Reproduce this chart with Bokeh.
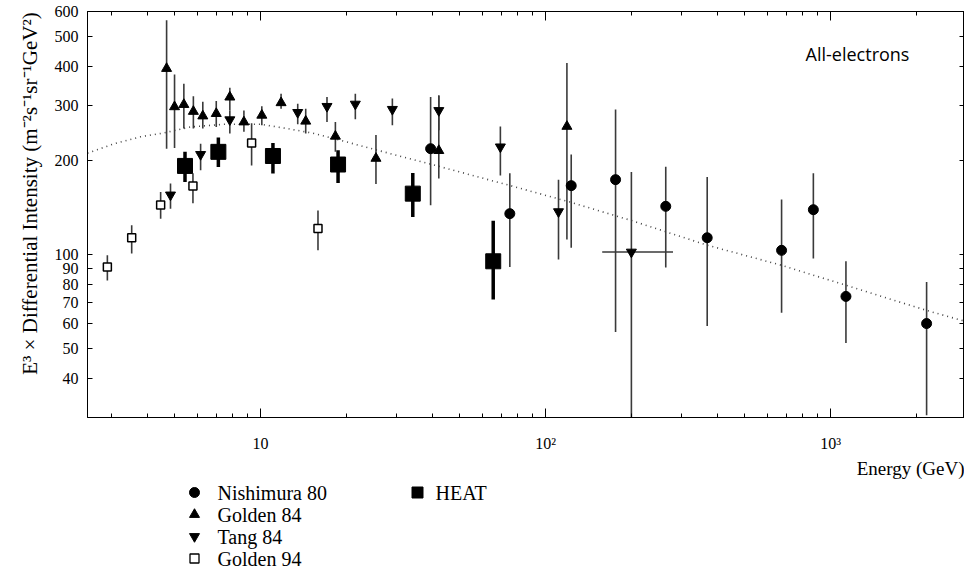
from bokeh.plotting import figure
from bokeh.layouts import column
from bokeh.models import (Range1d, LogAxis, FixedTicker, Label)
from bokeh.core.properties import value
from bokeh.embed import file_html
from bokeh.resources import INLINE

# ---------------- data ----------------
nishimura_E = [39.5, 74.9, 123, 176, 264, 369, 673, 870, 1132, 2172]
nishimura_I = [218, 135, 166, 173.5, 142.5, 113, 103, 139, 73.3, 60]
nishimura_lo = [143.6, 91, 105, 56.4, 90.7, 58.9, 65, 96.9, 52, 30.5]
nishimura_hi = [319, 182, 209, 291, 191, 177, 150, 182, 95, 81.5]

golden84_E = [4.68, 4.99, 5.38, 5.81, 6.27, 6.99, 7.80, 8.74, 10.1, 11.8, 14.4, 18.3, 25.4, 42.2, 118.8]
golden84_I = [394, 297, 302, 287, 277.5, 282.5, 319, 265.5, 279, 306, 267, 239, 203, 215, 257]
golden84_lo = [218, 219, 253, 253, 253, 256, 289, 247, 259, 293, 244, 213, 168, 175, 111.5]
golden84_hi = [562, 377, 352, 321, 308, 310, 342, 289, 298, 327, 293, 265.5, 241, 323, 410]

tang84_E = [4.83, 6.16, 7.80, 13.5, 17.1, 21.5, 29.0, 42.2, 69.4, 111, 200]
tang84_I = [155, 209, 270, 285, 298, 303, 291.5, 289, 221, 137, 101.7]
tang84_lo = [140, 186, 244, 261, 265.5, 271, 259, 250, 179, 96.2, 30]
tang84_hi = [168.5, 226, 289, 304, 319, 327, 315.5, 323, 257, 173.5, 183.6]
# energy bin of the last Tang 84 point
tang84_bin_lo = [158]
tang84_bin_hi = [280]
tang84_bin_I = [101.7]

golden94_E = [2.90, 3.53, 4.46, 5.79, 9.3, 15.9]
golden94_I = [91, 113, 144, 165.6, 227.5, 121]
golden94_lo = [82.5, 100.7, 130, 145.7, 192.6, 103]
golden94_hi = [99.3, 124, 158.4, 181.8, 263, 138.3]

heat_E = [5.43, 7.11, 11.05, 18.7, 34.2, 65.5]
heat_I = [192, 213, 206.6, 194, 156.5, 95]
heat_lo = [170.5, 190.5, 181.4, 169.2, 131.7, 71.6]
heat_hi = [213, 236.7, 227.5, 215.4, 182.2, 128]

model_E = [2.47, 3.06, 3.79, 4.58, 5.68, 7.43, 10, 12.4, 15.4, 20.1, 25, 41.7,
           75.3, 122, 199, 369, 673, 1132, 2173, 3020]
model_I = [211, 226, 238, 245, 256, 261, 261, 253, 244, 229, 217, 192,
           166, 147, 128.5, 107, 92.2, 79.6, 66.1, 60.7]

x_major = [10, 100, 1000]
x_major_labels = ["10", "10²", "10³"]
x_minor = [3, 4, 5, 6, 7, 8, 9, 20, 30, 40, 50, 60, 70, 80, 90,
           200, 300, 400, 500, 600, 700, 800, 900, 2000, 3000]
y_ticks = [40, 50, 60, 70, 80, 90, 100, 200, 300, 400, 500, 600]
y_tick_labels = ["40", "50", "60", "70", "80", "90", "100", "200", "300", "400", "500", "600"]

legend_col1 = ["Nishimura 80", "Golden 84", "Tang 84", "Golden 94"]
legend_col2 = ["HEAT"]

SERIF = "Liberation Serif"
SERIF_Q = "'Liberation Serif', 'Times New Roman', serif"

# ---------------- main figure ----------------
p = figure(x_axis_type="log", y_axis_type="log",
           x_range=Range1d(2.47, 2950), y_range=Range1d(30, 600),
           frame_width=877, frame_height=406,
           min_border_left=87, min_border_right=0, min_border_top=11,
           min_border_bottom=40,
           output_backend="svg", toolbar_location=None)
p.xgrid.visible = False
p.ygrid.visible = False
p.outline_line_color = "black"
p.outline_line_width = 1
p.background_fill_color = "white"
p.border_fill_color = "white"

xa = p.xaxis[0]
xa.ticker = FixedTicker(ticks=x_major, minor_ticks=x_minor)
xa.major_label_overrides = dict(zip(x_major, x_major_labels))
ya = p.yaxis[0]
ya.ticker = FixedTicker(ticks=y_ticks, minor_ticks=[])
ya.major_label_overrides = dict(zip(y_ticks, y_tick_labels))

top = LogAxis(ticker=FixedTicker(ticks=x_major, minor_ticks=x_minor))
top.major_label_overrides = {t: "" for t in x_major}
right = LogAxis(ticker=FixedTicker(ticks=y_ticks, minor_ticks=[]))
right.major_label_overrides = {t: "" for t in y_ticks}
p.add_layout(top, "above")
p.add_layout(right, "right")

for ax in (xa, top):
    ax.major_tick_in = 9
    ax.major_tick_out = 0
    ax.minor_tick_in = 4
    ax.minor_tick_out = 0
for ax in (ya, right):
    ax.major_tick_in = 5
    ax.major_tick_out = 0
    ax.minor_tick_in = 0
    ax.minor_tick_out = 0
for ax in (xa, ya, top, right):
    ax.axis_line_color = "black"
    ax.major_tick_line_color = "black"
    ax.minor_tick_line_color = "black"
    ax.major_label_text_font = SERIF
    ax.major_label_text_color = "black"
for ax in (top, right):
    ax.major_label_text_font_size = "0px"
    ax.major_label_standoff = 0

xa.major_label_text_font_size = "16px"
xa.major_label_standoff = 17
ya.major_label_text_font_size = "16px"
ya.major_label_standoff = 9

# two leading em spaces lift the (centred) title a little, as in the original
ya.axis_label = "\u2003\u2003E³ × Differential Intensity (m⁻²s⁻¹sr⁻¹GeV²)"
ya.axis_label_text_font = SERIF
ya.axis_label_text_font_size = "21px"
ya.axis_label_text_font_style = "normal"
ya.axis_label_text_color = "black"
ya.axis_label_standoff = 10

# model curve
p.line(model_E, model_I, line_color="#444444", line_width=1.6, line_dash="1 4")

# error bars
ebar = dict(line_color="#3a3a3a", line_width=1.6)
p.segment(x0=nishimura_E, y0=nishimura_lo, x1=nishimura_E, y1=nishimura_hi, **ebar)
p.segment(x0=golden84_E, y0=golden84_lo, x1=golden84_E, y1=golden84_hi, **ebar)
p.segment(x0=tang84_E, y0=tang84_lo, x1=tang84_E, y1=tang84_hi, **ebar)
p.segment(x0=tang84_bin_lo, y0=tang84_bin_I, x1=tang84_bin_hi, y1=tang84_bin_I, **ebar)
p.segment(x0=golden94_E, y0=golden94_lo, x1=golden94_E, y1=golden94_hi, **ebar)
p.segment(x0=heat_E, y0=heat_lo, x1=heat_E, y1=heat_hi, line_color="black", line_width=3.5)

# markers
p.scatter(nishimura_E, nishimura_I, marker="circle", size=10,
          fill_color="black", line_color="black")
p.scatter(golden84_E, golden84_I, marker="triangle", size=10,
          fill_color="black", line_color="black")
p.scatter(tang84_E, tang84_I, marker="inverted_triangle", size=10,
          fill_color="black", line_color="black")
p.scatter(golden94_E, golden94_I, marker="square", size=8,
          fill_color="white", line_color="black", line_width=1.5)
p.scatter(heat_E, heat_I, marker="square", size=15,
          fill_color="black", line_color="black")

p.add_layout(Label(x=817, y=440, text="All-electrons", text_font="Open Sans",
                   text_font_size="18px", text_color="black",
                   text_baseline="middle", text_align="left"))

# ---------------- legend / x-axis title strip ----------------
# its frame is aligned with the main frame (page x 87 .. 964), so the range
# is expressed in page pixels
q = figure(x_range=Range1d(87, 964), y_range=Range1d(114, 0),
           frame_width=877, frame_height=114,
           min_border_left=87, min_border_right=0, min_border_top=0,
           min_border_bottom=0, x_axis_location=None, y_axis_location=None,
           output_backend="svg", toolbar_location=None)
q.xgrid.visible = False
q.ygrid.visible = False
q.outline_line_color = None
q.background_fill_color = "white"
q.border_fill_color = "white"

q.text(x=[964], y=[11], text=["Energy (GeV)"], text_font=value(SERIF_Q),
       text_font_size="19px", text_color="black", text_align="right",
       text_baseline="middle")

rows = [35, 57, 79, 101]
q.scatter(x=[194], y=[rows[0]], marker="circle", size=10, fill_color="black", line_color="black")
q.scatter(x=[194], y=[rows[1]], marker="triangle", size=10, fill_color="black", line_color="black")
q.scatter(x=[194], y=[rows[2]], marker="inverted_triangle", size=10, fill_color="black", line_color="black")
q.scatter(x=[194], y=[rows[3]], marker="square", size=9, fill_color="white", line_color="black", line_width=1.3)
q.scatter(x=[417], y=[rows[0]], marker="square", size=11, fill_color="black", line_color="black")
q.text(x=[217] * 4, y=rows, text=legend_col1, text_font=value(SERIF_Q),
       text_font_size="20px", text_color="black", text_align="left",
       text_baseline="middle")
q.text(x=[435], y=[rows[0]], text=legend_col2, text_font=value(SERIF_Q),
       text_font_size="20px", text_color="black", text_align="left",
       text_baseline="middle")

layout = column(p, q, spacing=0)
open("out.html", "w").write(file_html(layout, INLINE))
